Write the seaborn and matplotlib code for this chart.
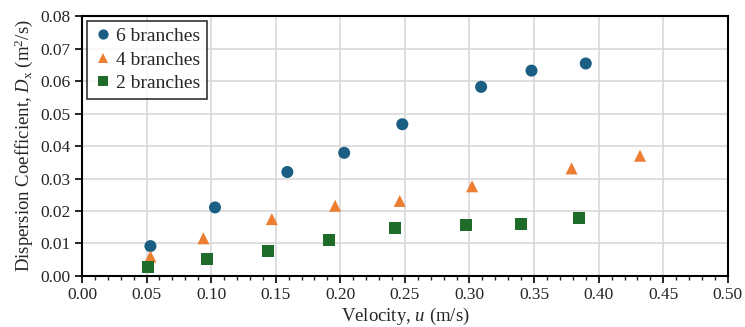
import numpy as np
import pandas as pd
import matplotlib
matplotlib.use("Agg")
import matplotlib.pyplot as plt
from matplotlib.ticker import MultipleLocator, FormatStrFormatter
import seaborn as sns

# values
vel_6 = [0.053, 0.103, 0.159, 0.203, 0.248, 0.309, 0.348, 0.390]
dx_6 = [0.0092, 0.0211, 0.0320, 0.0379, 0.0467, 0.0582, 0.0632, 0.0654]
vel_4 = [0.053, 0.094, 0.147, 0.196, 0.246, 0.302, 0.379, 0.432]
dx_4 = [0.0060, 0.0116, 0.0175, 0.0216, 0.0231, 0.0276, 0.0331, 0.0370]
vel_2 = [0.051, 0.097, 0.144, 0.191, 0.242, 0.297, 0.340, 0.385]
dx_2 = [0.0029, 0.0051, 0.0078, 0.0111, 0.0147, 0.0156, 0.0159, 0.0178]
series = ["6 branches", "4 branches", "2 branches"]

df = pd.concat([
    pd.DataFrame({"u": vel_6, "Dx": dx_6, "case": series[0]}),
    pd.DataFrame({"u": vel_4, "Dx": dx_4, "case": series[1]}),
    pd.DataFrame({"u": vel_2, "Dx": dx_2, "case": series[2]}),
])

sns.set_style("white")
plt.rcParams["font.family"] = ["Liberation Serif", "DejaVu Serif"]
plt.rcParams["mathtext.fontset"] = "custom"
plt.rcParams["mathtext.rm"] = "Liberation Serif"
plt.rcParams["mathtext.it"] = "Liberation Serif:italic"

colors = {"6 branches": "#1B5E83", "4 branches": "#ED7D31", "2 branches": "#1E6B2A"}
marks = {"6 branches": "o", "4 branches": "^", "2 branches": "s"}

fig = plt.figure(figsize=(7.45, 3.27), dpi=100)
ax = fig.add_axes([0.110, 0.156, 0.867, 0.795])

sns.scatterplot(data=df, x="u", y="Dx", hue="case", style="case",
                palette=colors, markers=marks, hue_order=series, style_order=series,
                s=75, linewidth=0, ax=ax, zorder=3)

ax.set_xlim(0, 0.5)
ax.set_ylim(0, 0.08)
ax.xaxis.set_major_locator(MultipleLocator(0.05))
ax.xaxis.set_minor_locator(MultipleLocator(0.01))
ax.yaxis.set_major_locator(MultipleLocator(0.01))
ax.xaxis.set_major_formatter(FormatStrFormatter("%.2f"))
ax.yaxis.set_major_formatter(FormatStrFormatter("%.2f"))
ax.grid(True, which="major", color="#D9D9D9", linewidth=1.2)
ax.set_axisbelow(True)
ax.tick_params(axis="both", which="major", direction="out", length=5, width=1.2,
               labelsize=12.5, color="black", bottom=True, left=True, pad=3)
ax.tick_params(axis="x", which="minor", direction="out", length=3, width=1, bottom=True)
for sp in ax.spines.values():
    sp.set_color("black")
    sp.set_linewidth(1.5)

ax.set_xlabel("Velocity, $\\mathit{u}$ (m/s)", fontsize=13.5, labelpad=2)
ax.set_ylabel("Dispersion Coefficient, $\\mathit{D}_\\mathrm{x}$ (m$^2$/s)", fontsize=13.5, labelpad=4)

leg = ax.legend(loc="upper left", fontsize=14, frameon=True, fancybox=False,
                edgecolor="black", borderaxespad=0.25, handletextpad=0.15,
                handlelength=1.0, labelspacing=0.3, borderpad=0.35, markerscale=0.85)
leg.get_frame().set_linewidth(1.2)
leg.set_title(None)

fig.savefig("out.png", dpi=100)
